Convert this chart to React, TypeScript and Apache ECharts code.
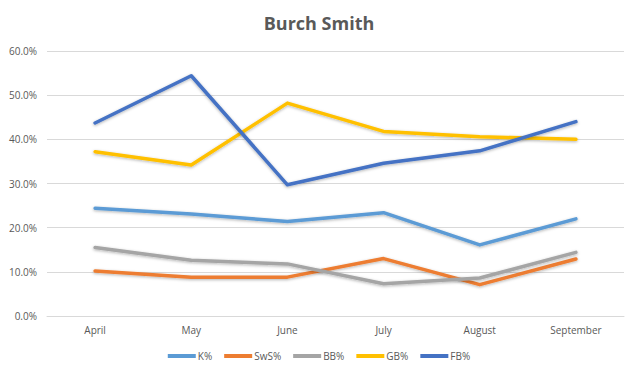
import React, { useEffect, useRef } from "react";
import * as echarts from "echarts";

const months = ["April", "May", "June", "July", "August", "September"];
const kPct = [24.4, 23.1, 21.4, 23.4, 16.1, 22.0];
const swsPct = [10.2, 8.8, 8.8, 13.0, 7.1, 12.9];
const bbPct = [15.5, 12.6, 11.8, 7.3, 8.6, 14.4];
const gbPct = [37.2, 34.2, 48.2, 41.8, 40.6, 40.0];
const fbPct = [43.7, 54.4, 29.7, 34.6, 37.4, 44.0];

const seriesDefs = [
  { name: "K%", data: kPct, color: "#5B9BD5" },
  { name: "SwS%", data: swsPct, color: "#ED7D31" },
  { name: "BB%", data: bbPct, color: "#A5A5A5" },
  { name: "GB%", data: gbPct, color: "#FFC000" },
  { name: "FB%", data: fbPct, color: "#4472C4" },
];

const FONT = "'Open Sans', 'Liberation Sans', sans-serif";

export default function App() {
  const ref = useRef<HTMLDivElement>(null);
  useEffect(() => {
    if (!ref.current) return;
    const chart = echarts.init(ref.current, undefined, { renderer: "svg" });
    chart.setOption({
      animation: false,
      backgroundColor: "#ffffff",
      title: {
        text: "Burch Smith",
        left: "center",
        top: 9,
        textStyle: { fontFamily: FONT, fontSize: 18, fontWeight: "bold", color: "#595959" },
      },
      legend: {
        bottom: 8,
        left: "center",
        icon: "rect",
        itemWidth: 28,
        itemHeight: 4,
        itemGap: 12,
        textStyle: { fontFamily: FONT, fontSize: 10, color: "#595959", padding: [0, 0, 0, -3] },
        data: seriesDefs.map((s) => s.name),
      },
      grid: { left: 47, right: 14, top: 51, bottom: 58 },
      xAxis: {
        type: "category",
        data: months,
        boundaryGap: true,
        axisLine: { lineStyle: { color: "#d9d9d9" } },
        axisTick: { show: false },
        axisLabel: { fontFamily: FONT, fontSize: 10, color: "#595959", margin: 9 },
      },
      yAxis: {
        type: "value",
        min: 0,
        max: 60,
        interval: 10,
        axisLine: { show: false },
        axisTick: { show: false },
        splitLine: { lineStyle: { color: "#d9d9d9" } },
        axisLabel: {
          fontFamily: FONT,
          fontSize: 10,
          color: "#595959",
          margin: 10,
          formatter: (v: number) => v.toFixed(1) + "%",
        },
      },
      series: seriesDefs.map((s) => ({
        name: s.name,
        type: "line",
        data: s.data,
        showSymbol: false,
        symbol: "none",
        color: s.color,
        lineStyle: {
          width: 3.5,
          color: s.color,
          cap: "round",
          join: "round",
          shadowColor: "rgba(0,0,0,0.3)",
          shadowBlur: 3,
          shadowOffsetY: 1,
        },
      })),
    });
    return () => chart.dispose();
  }, []);
  return (
    <div
      ref={ref}
      style={{ position: "fixed", left: 0, top: 0, width: 638, height: 374 }}
    />
  );
}
